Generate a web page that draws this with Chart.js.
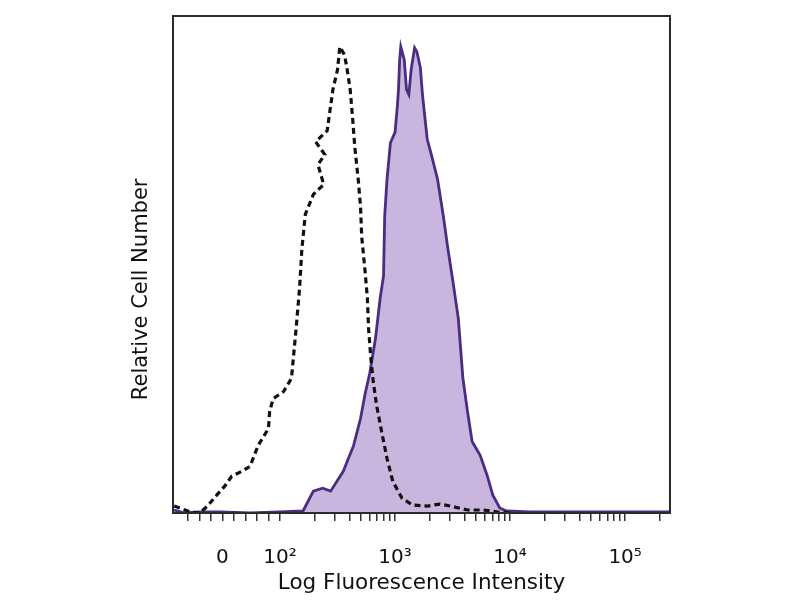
<!DOCTYPE html>
<html>
<head>
<meta charset="utf-8">
<script src="https://cdn.jsdelivr.net/npm/chart.js@4/dist/chart.umd.min.js"></script>
<style>
  html, body { margin: 0; padding: 0; background: #fff; }
  #wrap { width: 800px; height: 600px; }
</style>
</head>
<body>
<div id="wrap"><canvas id="histChart" width="800" height="600"></canvas></div>
<script>
// x values are in display (decade) units: 2 = 10^2, 3 = 10^3 ... ; 1.5 = 0
const isotypeX = [1.08, 1.13, 1.22, 1.30, 1.37, 1.45, 1.52, 1.58, 1.67, 1.74, 1.81, 1.90, 1.91, 1.94, 2.03, 2.10, 2.14, 2.17, 2.19, 2.22, 2.29, 2.38, 2.33, 2.39, 2.31, 2.41, 2.46, 2.50, 2.52, 2.56, 2.58, 2.61, 2.63, 2.65, 2.68, 2.70, 2.71, 2.74, 2.76, 2.77, 2.79, 2.81, 2.84, 2.89, 2.93, 2.98, 3.06, 3.15, 3.28, 3.39, 3.48, 3.63, 3.77, 3.89, 4.00];
const isotypeY = [1.4, 1.0, 0.2, 0, 1.4, 3.6, 5.4, 7.4, 8.4, 9.4, 13.6, 17.0, 20.4, 23.0, 24.4, 27.1, 37.1, 45.1, 53.1, 60.1, 64.1, 66.1, 70.1, 72.1, 74.7, 76.9, 85.2, 89.2, 93.8, 92.2, 89.8, 85.2, 79.8, 73.7, 67.1, 61.7, 55.7, 48.5, 43.1, 37.1, 31.1, 26.5, 21.6, 15.6, 11.0, 6.4, 3.0, 1.6, 1.4, 1.8, 1.4, 0.6, 0.6, 0.2, 0];

const stainedX = [1.08, 1.17, 1.30, 1.48, 1.74, 2.00, 2.20, 2.29, 2.37, 2.44, 2.55, 2.64, 2.70, 2.74, 2.78, 2.83, 2.87, 2.90, 2.91, 2.93, 2.96, 3.00, 3.02, 3.03, 3.04, 3.05, 3.08, 3.10, 3.12, 3.14, 3.17, 3.19, 3.22, 3.24, 3.28, 3.32, 3.37, 3.42, 3.46, 3.50, 3.55, 3.59, 3.63, 3.67, 3.74, 3.80, 3.85, 3.91, 3.97, 4.17, 4.44, 4.78, 5.13, 5.39];
const stainedY = [0.6, 0, 0.2, 0.2, 0, 0.2, 0.4, 4.4, 5.0, 4.4, 8.4, 13.6, 19.0, 24.0, 28.1, 35.1, 43.1, 47.7, 59.7, 67.1, 74.5, 76.6, 81.8, 85.2, 91.2, 93.8, 91.2, 85.2, 84.2, 89.2, 93.6, 92.8, 89.6, 83.8, 75.2, 71.7, 67.1, 59.7, 53.1, 47.1, 39.1, 27.1, 20.4, 14.4, 11.6, 7.6, 3.6, 1.0, 0.4, 0.2, 0.2, 0.2, 0.2, 0.2];

const majorTicks = [1.5, 2, 3, 4, 5];
const majorLabels = ['0', '10\u00B2', '10\u00B3', '10\u2074', '10\u2075'];
const linearMinor = [1.2, 1.3, 1.4, 1.6, 1.7, 1.8, 1.9];
const decadeMultipliers = [2, 3, 4, 5, 6, 7, 8, 9];
const decades = [2, 3, 4];

const logMinor = [];
decades.forEach(d => decadeMultipliers.forEach(m => logMinor.push(d + Math.log10(m))));
logMinor.push(5 + Math.log10(2));
const allTicks = [...linearMinor, ...majorTicks, ...logMinor].sort((a, b) => a - b);

const yTitle = 'Relative Cell Number';
const font = 'DejaVu Sans';

const toPoints = (xs, ys) => xs.map((x, i) => ({ x: x, y: ys[i] }));

// frame around the plot and the y title (it sits a bit below the axis middle in the original)
const framePlugin = {
    id: 'frame',
    afterDatasetsDraw(chart) {
        const { ctx, chartArea: a } = chart;
        ctx.save();
        ctx.strokeStyle = '#2b2b2b';
        ctx.lineWidth = 2;
        ctx.strokeRect(a.left, a.top, a.right - a.left, a.bottom - a.top);
        ctx.restore();
    },
    afterDraw(chart) {
        const { ctx, chartArea: a } = chart;
        ctx.save();
        ctx.translate(a.left - 31, a.top + (a.bottom - a.top) * 0.55);
        ctx.rotate(-Math.PI / 2);
        ctx.font = '21px "' + font + '"';
        ctx.fillStyle = '#111';
        ctx.textAlign = 'center';
        ctx.textBaseline = 'middle';
        ctx.fillText(yTitle, 0, 0);
        ctx.restore();
    }
};

new Chart(document.getElementById('histChart').getContext('2d'), {
    type: 'line',
    data: {
        datasets: [{
            label: 'Isotype control',
            data: toPoints(isotypeX, isotypeY),
            borderColor: '#111',
            borderWidth: 3.2,
            borderDash: [6, 4],
            fill: false,
            pointRadius: 0,
            tension: 0
        }, {
            label: 'Stained',
            data: toPoints(stainedX, stainedY),
            borderColor: '#4a2c80',
            borderWidth: 2.8,
            backgroundColor: 'rgba(198, 178, 220, 0.95)',
            fill: 'origin',
            pointRadius: 0,
            tension: 0
        }]
    },
    options: {
        responsive: false,
        animation: false,
        layout: { padding: { left: 120, right: 130, top: 16, bottom: 0 } },
        plugins: { legend: { display: false }, tooltip: { enabled: false } },
        scales: {
            x: {
                type: 'linear',
                min: 1.07,
                max: 5.39,
                afterFit: (s) => { s.height = 87; },
                afterBuildTicks: (s) => { s.ticks = allTicks.map(v => ({ value: v })); },
                grid: { drawOnChartArea: false, drawTicks: true, tickLength: 8, color: '#333', lineWidth: 1.5 },
                border: { display: false },
                ticks: {
                    autoSkip: false,
                    maxRotation: 0,
                    padding: 25,
                    color: '#111',
                    font: { family: font, size: 20 },
                    callback: (v) => {
                        const i = majorTicks.indexOf(v);
                        return i >= 0 ? majorLabels[i] : '';
                    }
                },
                title: {
                    display: true,
                    text: 'Log Fluorescence Intensity',
                    color: '#111',
                    font: { family: font, size: 21.5 },
                    padding: { top: 0, bottom: 4 }
                }
            },
            y: {
                min: 0,
                max: 100,
                afterFit: (s) => { s.width = 53; },
                grid: { display: false },
                border: { display: false },
                ticks: { display: false },
                title: { display: false }
            }
        }
    },
    plugins: [framePlugin]
});
</script>
</body>
</html>
